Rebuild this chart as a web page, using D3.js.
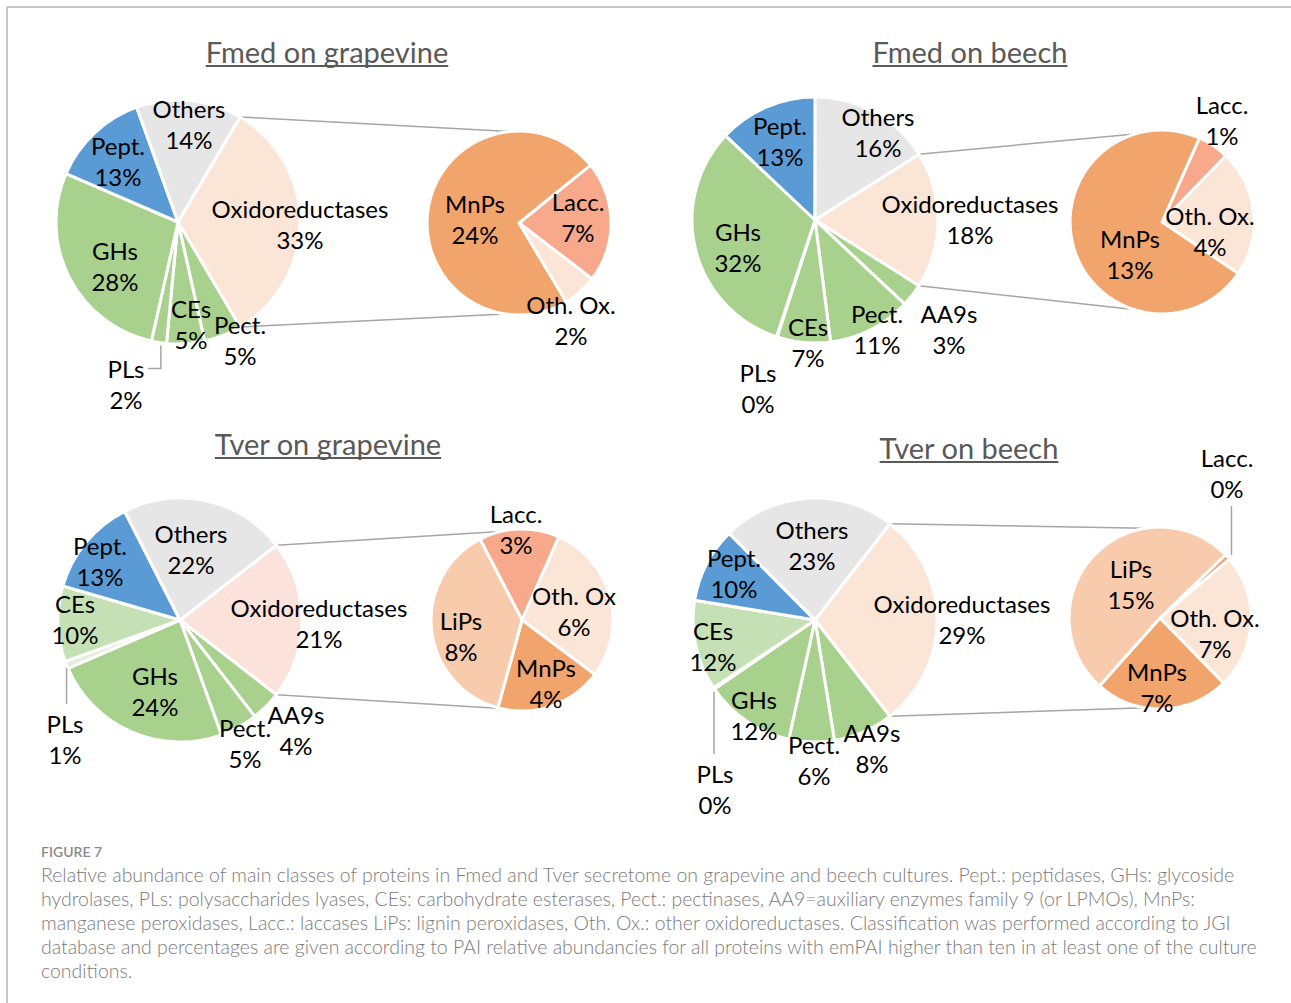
<!DOCTYPE html>
<html>
<head>
<meta charset="utf-8">
<script src="https://cdn.jsdelivr.net/npm/d3@7"></script>
<style>
  body { margin: 0; background: #fff; }
  svg { display: block; }
</style>
</head>
<body>
<svg id="fig" width="1291" height="1003"></svg>
<script>
// ---- data (percent of all proteins) ----
const fgMainCats = ["Oxidoreductases", "Pect.", "CEs", "PLs", "GHs", "Pept.", "Others"];
const fgMainVals = [33, 5, 5, 2, 28, 13, 14];
const fgSubCats = ["Lacc.", "Oth. Ox.", "MnPs"];
const fgSubVals = [7, 2, 24];

const fbMainCats = ["Oxidoreductases", "AA9s", "Pect.", "CEs", "PLs", "GHs", "Pept.", "Others"];
const fbMainVals = [18, 3, 11, 7, 0.1, 32, 13, 16];
const fbSubCats = ["Lacc.", "Oth. Ox.", "MnPs"];
const fbSubVals = [1, 4, 13];

const tgMainCats = ["Oxidoreductases", "AA9s", "Pect.", "GHs", "PLs", "CEs", "Pept.", "Others"];
const tgMainVals = [21, 4, 5, 24, 1, 10, 13, 22];
const tgSubCats = ["Lacc.", "Oth. Ox", "MnPs", "LiPs"];
const tgSubVals = [3, 6, 4, 8];

const tbMainCats = ["Oxidoreductases", "AA9s", "Pect.", "GHs", "PLs", "CEs", "Pept.", "Others"];
const tbMainVals = [29, 8, 6, 12, 0.2, 12, 10, 23];
const tbSubCats = ["Lacc.", "Oth. Ox.", "MnPs", "LiPs"];
const tbSubVals = [0.3, 7, 7, 15];

const chartTitles = ["Fmed on grapevine", "Fmed on beech", "Tver on grapevine", "Tver on beech"];

const captionHead = "FIGURE 7";
const captionLines = [
  "Relative abundance of main classes of proteins in Fmed and Tver secretome on grapevine and beech cultures. Pept.: peptidases, GHs: glycoside",
  "hydrolases, PLs: polysaccharides lyases, CEs: carbohydrate esterases, Pect.: pectinases, AA9=auxiliary enzymes family 9 (or LPMOs), MnPs:",
  "manganese peroxidases, Lacc.: laccases LiPs: lignin peroxidases, Oth. Ox.: other oxidoreductases. Classification was performed according to JGI",
  "database and percentages are given according to PAI relative abundancies for all proteins with emPAI higher than ten in at least one of the culture",
  "conditions."
];

// ---- colours ----
const baseColors = {
  "Oxidoreductases": "#fbe5d6", "Pect.": "#a9d18e", "CEs": "#a9d18e", "PLs": "#a9d18e",
  "GHs": "#a9d18e", "AA9s": "#a9d18e", "Pept.": "#5b9bd5", "Others": "#e7e6e6",
  "Lacc.": "#f8a98b", "Oth. Ox.": "#fbe5d6", "Oth. Ox": "#fbe5d6", "MnPs": "#f1a46c", "LiPs": "#f8cbad"
};

// ---- layout (positions in px) ----
const charts = [
  { title: chartTitles[0], tx: 327, ty: 51,
    main: { cats: fgMainCats, vals: fgMainVals, cx: 178, cy: 222, r: 122 },
    sub: { cats: fgSubCats, vals: fgSubVals, cx: 519, cy: 223, r: 92, start: 51 },
    conn: [-5.5, 188.6],
    colors: {},
    labels: { "Others": [11, -98], "Pept.": [-60, -61], "Oxidoreductases": [122, 2], "GHs": [-63, 44],
      "CEs": [13, 102], "Pect.": [62, 118], "PLs": [-52, 162] },
    subLabels: { "MnPs": [-44, -4], "Lacc.": [59, -6], "Oth. Ox.": [52, 97] },
    leaders: { "PLs": "down-left" } },
  { title: chartTitles[1], tx: 970, ty: 51,
    main: { cats: fbMainCats, vals: fbMainVals, cx: 815, cy: 220, r: 123 },
    sub: { cats: fbSubCats, vals: fbSubVals, cx: 1162, cy: 222, r: 92, start: 24 },
    conn: [-17, 198],
    colors: {},
    labels: { "Others": [63, -88], "Pept.": [-35, -79], "Oxidoreductases": [155, -1], "GHs": [-77, 27],
      "CEs": [-7, 122], "Pect.": [62, 109], "AA9s": [134, 109], "PLs": [-57, 168] },
    subLabels: { "MnPs": [-32, 32], "Lacc.": [60, -102], "Oth. Ox.": [48, 9] },
    leaders: {} },
  { title: chartTitles[2], tx: 328, ty: 443,
    main: { cats: tgMainCats, vals: tgMainVals, cx: 180, cy: 620, r: 122 },
    sub: { cats: tgSubCats, vals: tgSubVals, cx: 522, cy: 620, r: 91, start: -27.5 },
    conn: [-13.7, 193.4],
    colors: { "Oxidoreductases": "#fbe2da", "CEs": "#c5e0b4", "PLs": "#e2f0d9" },
    labels: { "Others": [11, -71], "Pept.": [-80, -59], "Oxidoreductases": [139, 3], "CEs": [-105, -1],
      "GHs": [-25, 71], "Pect.": [65, 123], "AA9s": [116, 110], "PLs": [-115, 119] },
    subLabels: { "Lacc.": [-6, -91], "Oth. Ox": [52, -9], "LiPs": [-61, 16], "MnPs": [24, 63] },
    leaders: { "PLs": "down" } },
  { title: chartTitles[3], tx: 969, ty: 447,
    main: { cats: tbMainCats, vals: tbMainVals, cx: 815, cy: 620, r: 122 },
    sub: { cats: tbSubCats, vals: tbSubVals, cx: 1160, cy: 618, r: 91, start: 46 },
    conn: [-9.4, 189.6],
    colors: { "CEs": "#c5e0b4", "Lacc.": "#f4a07a" },
    labels: { "Others": [-3, -75], "Pept.": [-81, -47], "Oxidoreductases": [147, -1], "CEs": [-102, 26],
      "GHs": [-61, 95], "Pect.": [-1, 140], "AA9s": [57, 128], "PLs": [-100, 169] },
    subLabels: { "Lacc.": [67, -145], "LiPs": [-29, -34], "Oth. Ox.": [55, 15], "MnPs": [-3, 69] },
    leaders: { "PLs": "down", "Lacc.": "up" } }
];

const FONT = "Lato, 'Noto Sans', sans-serif";
const LINE = 31;
const rad = d => d * Math.PI / 180;
const onCircle = (cx, cy, r, a) => [cx + r * Math.sin(a), cy - r * Math.cos(a)];
const pct = v => Math.round(v) + "%";

const svg = d3.select("#fig");

// frame
svg.append("line").attr("x1", 7).attr("y1", 7).attr("x2", 1291).attr("y2", 7)
  .attr("stroke", "#b4b4b4").attr("stroke-width", 1.5);
svg.append("line").attr("x1", 7).attr("y1", 7).attr("x2", 7).attr("y2", 1003)
  .attr("stroke", "#b4b4b4").attr("stroke-width", 1.5);

function twoLineLabel(g, x, y, name, value) {
  g.append("text").attr("x", x).attr("y", y - LINE / 2)
    .attr("text-anchor", "middle").attr("dominant-baseline", "central")
    .attr("font-family", FONT).attr("font-size", 24).attr("fill", "#000").text(name);
  g.append("text").attr("x", x).attr("y", y + LINE / 2)
    .attr("text-anchor", "middle").attr("dominant-baseline", "central")
    .attr("font-family", FONT).attr("font-size", 24).attr("fill", "#000").text(value);
}

charts.forEach(c => {
  const g = svg.append("g");
  const colorOf = k => c.colors[k] || baseColors[k];

  // title with underline
  const t = g.append("text").attr("x", c.tx).attr("y", c.ty)
    .attr("text-anchor", "middle").attr("dominant-baseline", "central")
    .attr("font-family", FONT).attr("font-size", 29).attr("fill", "#595959").text(c.title);
  const tw = t.node().getComputedTextLength();
  g.append("line").attr("x1", c.tx - tw / 2).attr("x2", c.tx + tw / 2)
    .attr("y1", c.ty + 15).attr("y2", c.ty + 15)
    .attr("stroke", "#595959").attr("stroke-width", 2);

  // main pie: split slice (first) centred at 3 o'clock
  const m = c.main;
  const mainTotal = d3.sum(m.vals);
  const half = m.vals[0] / mainTotal * Math.PI;
  const mainPie = d3.pie().sort(null).value(d => d.v)
    .startAngle(Math.PI / 2 - half).endAngle(Math.PI / 2 - half + 2 * Math.PI);
  const mainArcs = mainPie(m.cats.map((k, i) => ({ k, v: m.vals[i] })));
  const arcM = d3.arc().innerRadius(0).outerRadius(m.r);

  // secondary pie
  const s = c.sub;
  const subPie = d3.pie().sort(null).value(d => d.v)
    .startAngle(rad(s.start)).endAngle(rad(s.start) + 2 * Math.PI);
  const subArcs = subPie(s.cats.map((k, i) => ({ k, v: s.vals[i] })));
  const arcS = d3.arc().innerRadius(0).outerRadius(s.r);

  // connector lines
  const split = mainArcs[0];
  const p1 = onCircle(m.cx, m.cy, m.r, split.startAngle);
  const p2 = onCircle(m.cx, m.cy, m.r, split.endAngle);
  const q1 = onCircle(s.cx, s.cy, s.r, rad(c.conn[0]));
  const q2 = onCircle(s.cx, s.cy, s.r, rad(c.conn[1]));
  [[p1, q1], [p2, q2]].forEach(([a, b]) => {
    g.append("line").attr("x1", a[0]).attr("y1", a[1]).attr("x2", b[0]).attr("y2", b[1])
      .attr("stroke", "#a6a6a6").attr("stroke-width", 1.5);
  });

  g.append("g").attr("transform", `translate(${m.cx},${m.cy})`)
    .selectAll("path").data(mainArcs).join("path")
    .attr("d", arcM).attr("fill", d => colorOf(d.data.k))
    .attr("stroke", "#fff").attr("stroke-width", 3).attr("stroke-linejoin", "round");

  g.append("g").attr("transform", `translate(${s.cx},${s.cy})`)
    .selectAll("path").data(subArcs).join("path")
    .attr("d", arcS).attr("fill", d => colorOf(d.data.k))
    .attr("stroke", "#fff").attr("stroke-width", 3).attr("stroke-linejoin", "round");

  // leader lines
  function leader(arcD, cx, cy, r, off, kind) {
    const mid = (arcD.startAngle + arcD.endAngle) / 2;
    const a = onCircle(cx, cy, r, mid);
    const lx = cx + off[0], ly = cy + off[1];
    let pts;
    if (kind === "down-left") pts = [[a[0] + 2, a[1] + 3], [a[0] + 2, ly - LINE / 2], [lx + 22, ly - LINE / 2]];
    else if (kind === "down") pts = [[a[0], a[1] + 3], [a[0], ly - LINE - 4]];
    else pts = [[a[0] + 4, a[1] - 2], [a[0] + 4, ly + LINE + 2]];
    g.append("polyline").attr("points", pts.map(p => p.join(",")).join(" "))
      .attr("fill", "none").attr("stroke", "#a6a6a6").attr("stroke-width", 1.5);
  }
  mainArcs.forEach(d => { if (c.leaders[d.data.k]) leader(d, m.cx, m.cy, m.r, c.labels[d.data.k], c.leaders[d.data.k]); });
  subArcs.forEach(d => { if (c.leaders[d.data.k]) leader(d, s.cx, s.cy, s.r, c.subLabels[d.data.k], c.leaders[d.data.k]); });

  // labels
  mainArcs.forEach(d => {
    const o = c.labels[d.data.k];
    twoLineLabel(g, m.cx + o[0], m.cy + o[1], d.data.k, pct(d.data.v));
  });
  subArcs.forEach(d => {
    const o = c.subLabels[d.data.k];
    twoLineLabel(g, s.cx + o[0], s.cy + o[1], d.data.k, pct(d.data.v));
  });
});

// caption
svg.append("text").attr("x", 41).attr("y", 851).attr("dominant-baseline", "central")
  .attr("font-family", FONT).attr("font-size", 14).attr("font-weight", 600)
  .attr("fill", "#8a8a8a").text(captionHead);
const cap = svg.append("g").attr("font-family", FONT).attr("font-size", 17)
  .attr("font-weight", 300).attr("fill", "#7b7b7b");
captionLines.forEach((line, i) => {
  cap.append("text").attr("x", 41).attr("y", 874 + i * 24).attr("dominant-baseline", "central").text(line);
});
// fit caption to the measured width of its first line
const first = cap.select("text").node().getComputedTextLength();
cap.attr("font-size", 17 * 1194 / first);
</script>
</body>
</html>
